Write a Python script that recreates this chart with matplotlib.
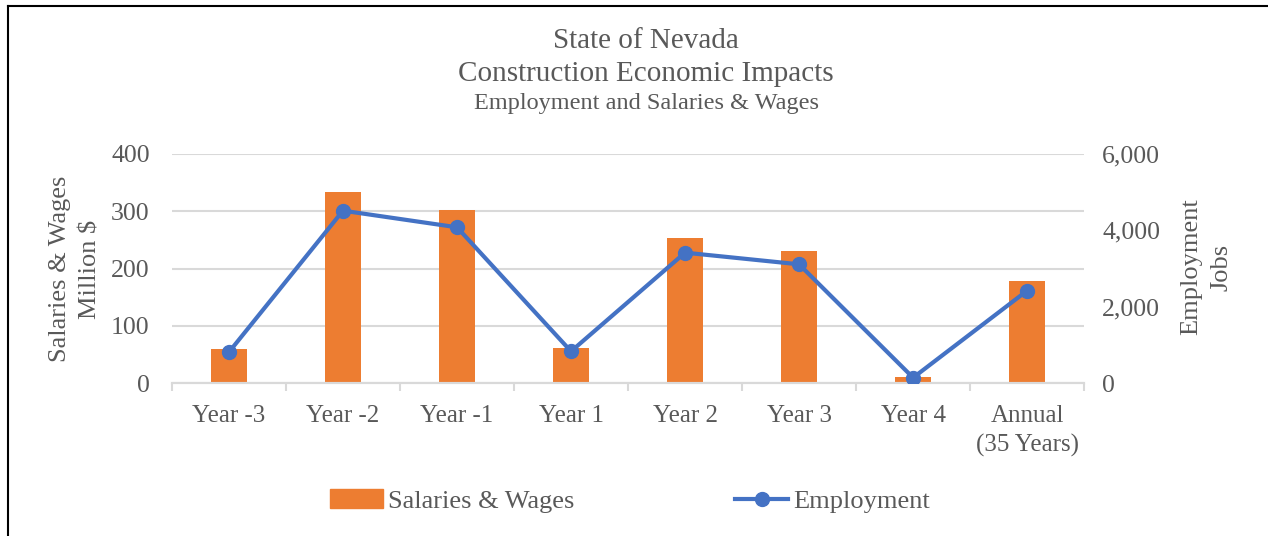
import numpy as np
import matplotlib
matplotlib.use("Agg")
import matplotlib.pyplot as plt
from matplotlib.lines import Line2D
from matplotlib.patches import Patch
from matplotlib.ticker import FuncFormatter

plt.rcParams["font.family"] = ["Liberation Serif", "DejaVu Serif"]

categories = ["Year -3", "Year -2", "Year -1", "Year 1", "Year 2", "Year 3", "Year 4",
              "Annual\n(35 Years)"]
salaries = [60, 334, 303, 61, 253, 231, 10, 178]          # million $
employment = [810, 4515, 4080, 830, 3415, 3110, 140, 2420]  # jobs

ORANGE = "#ED7D31"
BLUE = "#4472C4"
GRIS = "#595959"
GRILLE = "#D9D9D9"

fig = plt.figure(figsize=(12.68, 5.36), dpi=100)
ax = fig.add_axes([0.1356, 0.2854, 0.7194, 0.4273])
ax2 = ax.twinx()

x = np.arange(len(categories))
ax.bar(x, salaries, width=0.315, color=ORANGE, zorder=2)
ax2.plot(x, employment, color=BLUE, lw=3, marker="o", markersize=10, zorder=3)

ax.set_xlim(-0.5, len(categories) - 0.5)
ax.set_ylim(0, 400)
ax.set_yticks([0, 100, 200, 300, 400])
ax2.set_ylim(0, 6000)
ax2.set_yticks([0, 2000, 4000, 6000])
ax2.yaxis.set_major_formatter(FuncFormatter(lambda v, p: f"{int(v):,}"))

ax.grid(axis="y", color=GRILLE, lw=1.5, zorder=0)
ax.set_axisbelow(True)

ax.set_xticks(x)
ax.set_xticklabels(categories, linespacing=1.4)
ax.set_xticks(np.arange(-0.5, len(categories)), minor=True)
ax.tick_params(axis="x", which="major", length=0, pad=16, labelsize=18, labelcolor=GRIS)
ax.tick_params(axis="x", which="minor", length=6, width=1.5, color=GRILLE)
ax.tick_params(axis="y", length=0, pad=16, labelsize=18.5, labelcolor=GRIS)
ax2.tick_params(axis="y", length=0, pad=13, labelsize=18.5, labelcolor=GRIS)

for a in (ax, ax2):
    for s in ("top", "left", "right"):
        a.spines[s].set_visible(False)
    a.spines["bottom"].set_color(GRILLE)
    a.spines["bottom"].set_linewidth(1.5)

# titres
cx = 646 / 1268
fig.text(cx, 1 - 41 / 536, "State of Nevada", ha="center", va="center",
         fontsize=21, color=GRIS)
fig.text(cx, 1 - 74 / 536, "Construction Economic Impacts", ha="center", va="center",
         fontsize=21, color=GRIS)
fig.text(cx, 1 - 104 / 536, "Employment and Salaries & Wages", ha="center",
         va="center", fontsize=17.5, color=GRIS)

# titres des axes
fig.text(75 / 1268, 1 - 269 / 536, "Salaries & Wages\nMillion $", rotation=90,
         ha="center", va="center", multialignment="center", fontsize=19, color=GRIS,
         linespacing=1.5)
fig.text(1206 / 1268, 1 - 267 / 536, "Employment\nJobs", rotation=90,
         ha="center", va="center", multialignment="center", fontsize=19, color=GRIS,
         linespacing=1.5)

# legende
poignees = [Patch(color=ORANGE),
            Line2D([0], [0], color=BLUE, lw=3, marker="o", markersize=10)]
fig.legend(poignees, ["Salaries & Wages", "Employment"], loc="center",
           bbox_to_anchor=(630 / 1268, 1 - 501 / 536), ncol=2, frameon=False,
           fontsize=19, labelcolor=GRIS, handlelength=2.0, handleheight=0.7,
           handletextpad=0.2, columnspacing=6.1)

# cadre
fig.add_artist(Line2D([8 / 1268, 8 / 1268], [0, 1 - 6 / 536], color="black", lw=1.5,
                      transform=fig.transFigure))
fig.add_artist(Line2D([8 / 1268, 1], [1 - 6 / 536, 1 - 6 / 536], color="black", lw=1.5,
                      transform=fig.transFigure))

fig.savefig("out.png", dpi=100)
